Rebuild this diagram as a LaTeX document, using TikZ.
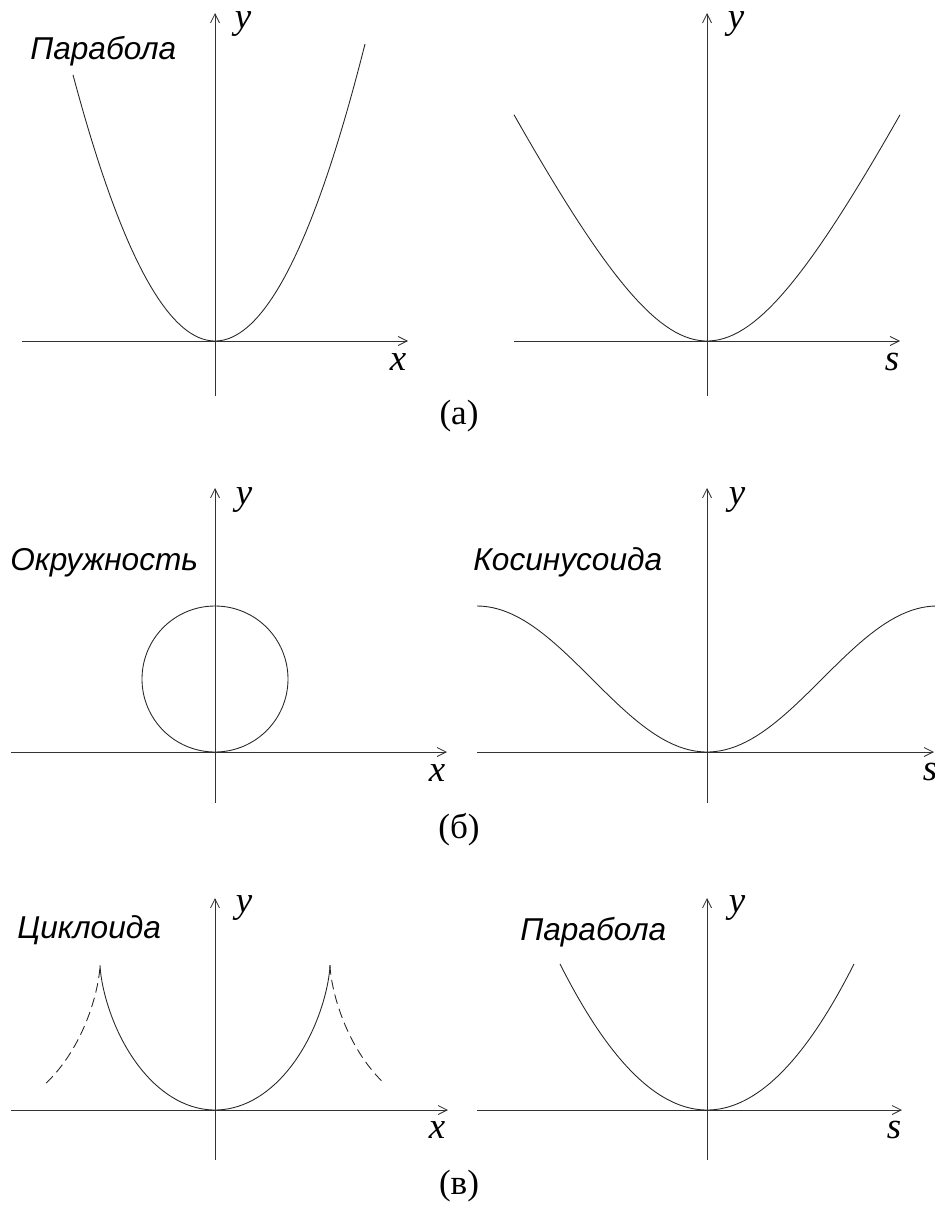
\documentclass[tikz,border=0pt]{standalone}
\usepackage{fontspec}
\setmainfont{Liberation Serif}
\newfontfamily\curvefont{Liberation Sans}
\usetikzlibrary{arrows.meta, positioning}

\begin{document}
\begin{tikzpicture}[
    x=0.02cm, y=-0.02cm,
    axis/.style={draw=black!80, line width=0.5pt,
                 -{Straight Barb[length=1.8mm, width=1.8mm]}},
    curve/.style={draw=black!85, line width=0.5pt},
    dashcurve/.style={curve, dash pattern=on 5.5pt off 3pt},
    axislabel/.style={inner sep=0, font=\itshape\fontsize{21}{25}\selectfont},
    curvename/.style={inner sep=0, anchor=base west,
                      font=\curvefont\itshape\fontsize{18}{22}\selectfont},
    caption/.style={inner sep=0, font=\fontsize{20}{24}\selectfont}
]
    \useasboundingbox (0,0) rectangle (935,1206);

    \draw[axis] (22,341) -- (408,341);
    \draw[axis] (215,396) -- (215,13);
    \draw[axis] (514,341) -- (900,341);
    \draw[axis] (707,396) -- (707,13);
    \draw[curve] plot[domain=-142:150, samples=80] ({215+\x}, {341-0.0132*(\x)*(\x)});
    \draw[curve] plot[domain=-193:193, samples=80]
        ({707+\x}, {341-228*(sqrt(1+((\x)/112)^2)-1)});
    \node[curvename] (parabA) at (30,60) {Парабола};
    \node[axislabel] (yaL) at (243,24) {y};
    \node[axislabel] (xaL) at (398,362) {x};
    \node[axislabel] (yaR) at (736,24) {y};
    \node[axislabel] (saR) at (892,362) {s};
    \node[caption] (capA) at (459,416) {(а)};

    \draw[axis] (11,752) -- (447,752);
    \draw[axis] (215,803) -- (215,488);
    \draw[axis] (477,752) -- (934,752);
    \draw[axis] (707,803) -- (707,488);
    \draw[curve] (215,679) circle[radius=73];
    \draw[curve] plot[domain=-230:230, samples=90]
        ({707+\x}, {752-73*(1-cos((\x)/230*180))});
    \node[curvename] (circB) at (10,570) {Окружность};
    \node[curvename] (cosB) at (473,570) {Косинусоида};
    \node[axislabel] (ybL) at (244,500) {y};
    \node[axislabel] (xbL) at (437,773) {x};
    \node[axislabel] (ybR) at (737,500) {y};
    \node[axislabel] (sbR) at (930,772) {s};
    \node[caption] (capB) at (459,830) {(б)};

    \draw[axis] (11,1110) -- (448,1110);
    \draw[axis] (215,1160) -- (215,898);
    \draw[axis] (477,1110) -- (902,1110);
    \draw[axis] (707,1160) -- (707,898);
    \draw[curve] plot[domain=-180:180, samples=90, variable=\t]
        ({215+36.6*((\t)*pi/180+sin(\t))}, {1110-72.5*(1-cos(\t))});
    \draw[dashcurve] plot[domain=180:309, samples=40, variable=\t]
        ({215+36.6*((\t)*pi/180+sin(\t))}, {1110-72.5*(1-cos(\t))});
    \draw[dashcurve] plot[domain=-309:-180, samples=40, variable=\t]
        ({215+36.6*((\t)*pi/180+sin(\t))}, {1110-72.5*(1-cos(\t))});
    \draw[curve] plot[domain=-147:147, samples=80] ({707+\x}, {1110-0.00676*(\x)*(\x)});
    \node[curvename] (cyclC) at (17,938) {Циклоида};
    \node[curvename] (parabC) at (520,940) {Парабола};
    \node[axislabel] (ycL) at (244,908) {y};
    \node[axislabel] (xcL) at (437,1130) {x};
    \node[axislabel] (ycR) at (737,908) {y};
    \node[axislabel] (scR) at (894,1130) {s};
    \node[caption] (capC) at (459,1186) {(в)};
\end{tikzpicture}
\end{document}
